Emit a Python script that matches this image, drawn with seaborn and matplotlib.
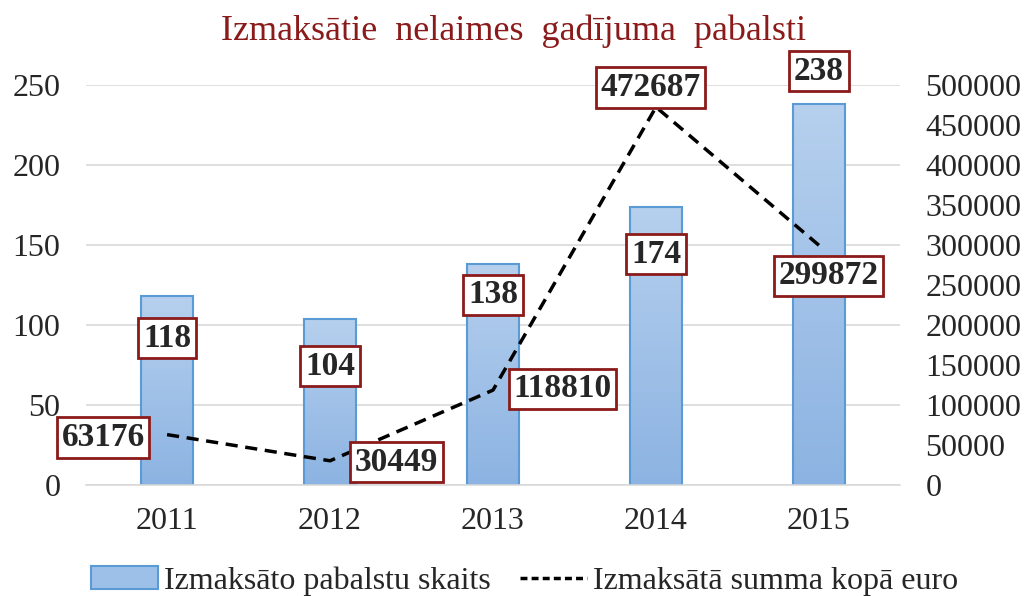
import numpy as np
import pandas as pd
import matplotlib
matplotlib.use("Agg")
from matplotlib import pyplot as plt
from matplotlib.colors import LinearSegmentedColormap
from matplotlib.lines import Line2D
from matplotlib.patches import Patch
import seaborn as sns

years = ["2011", "2012", "2013", "2014", "2015"]
counts = [118, 104, 138, 174, 238]
sums = [63176, 30449, 118810, 472687, 299872]
title = "Izmaksātie  nelaimes  gadījuma  pabalsti"
bar_name = "Izmaksāto pabalstu skaits"
line_name = "Izmaksātā summa kopā euro"

# label offsets (points) relative to the data point
bar_offsets = [(0, -30), (0, -34), (0, -22), (0, -34), (0, 24)]
line_offsets = [(-46, -2), (48, -1), (50, 1), (-4, 14), (7, -22)]

sns.set_style("white")
plt.rcParams['font.family'] = ['Liberation Serif', 'DejaVu Serif']

df = pd.DataFrame({"year": years, "count": counts, "sum": sums})

fig = plt.figure(figsize=(10.27, 5.96), dpi=100)
ax = fig.add_axes([0.0833, 0.186, 0.7935, 0.671])
sns.barplot(data=df, x="year", y="count", ax=ax, width=0.32,
            color="#9dc0e8", edgecolor="#5b9bd5", linewidth=1.5, zorder=2)

# vertical gradient in each bar
cmap = LinearSegmentedColormap.from_list("bluegrad", ["#8cb3e2", "#b6d0ee"])
grad = np.linspace(0, 1, 256).reshape(-1, 1)
for p in ax.patches:
    x0, y0 = p.get_x(), p.get_y()
    w, h = p.get_width(), p.get_height()
    im = ax.imshow(grad, cmap=cmap, origin="lower", aspect="auto",
                   extent=[x0, x0 + w, y0, y0 + h], zorder=2.1)
    im.set_clip_path(p)
    p.set_facecolor("none")
    p.set_zorder(2.2)

ax.set_xlim(-0.5, 4.5)
ax.set_ylim(0, 250)
ax.set_yticks(range(0, 251, 50))
ax.yaxis.grid(True, color="#d9d9d9", linewidth=1.2, zorder=0)
ax.set_axisbelow(True)
for s in ["top", "right", "left"]:
    ax.spines[s].set_visible(False)
ax.spines["bottom"].set_color("#d9d9d9")
ax.spines["bottom"].set_linewidth(1.2)
ax.set_xlabel("")
ax.set_ylabel("")
ax.tick_params(axis="y", length=0, labelsize=23, pad=18)
ax.tick_params(axis="x", length=0, labelsize=23, pad=16)

ax2 = ax.twinx()
sns.lineplot(x=np.arange(len(years)), y=sums, ax=ax2, color="black",
             linestyle=(0, (3.5, 2.2)), linewidth=2.5, zorder=3)
ax2.set_ylim(0, 500000)
ax2.set_yticks(range(0, 500001, 50000))
ax2.tick_params(axis="y", length=0, labelsize=23, pad=18)
for s in ax2.spines.values():
    s.set_visible(False)

box = dict(boxstyle="square,pad=0.14", fc="white", ec="#8b1a1a", lw=2)
for i, v in enumerate(counts):
    ax.annotate(str(v), (i, v), xytext=bar_offsets[i], textcoords="offset points",
                ha="center", va="center", fontsize=24, fontweight="bold",
                bbox=box, zorder=5)
for i, v in enumerate(sums):
    ax2.annotate(str(v), (i, v), xytext=line_offsets[i], textcoords="offset points",
                 ha="center", va="center", fontsize=24, fontweight="bold",
                 bbox=box, zorder=5)

fig.text(0.5, 0.948, title, ha="center", va="center", fontsize=26,
         color="#8b1a1a")

handles = [Patch(facecolor="#9dc0e8", edgecolor="#5b9bd5", linewidth=1.5),
           Line2D([], [], color="black", linestyle=(0, (2, 1.2)), linewidth=2.5)]
fig.legend(handles, [bar_name, line_name], loc="center", bbox_to_anchor=(0.511, 0.025),
           ncol=2, frameon=False, fontsize=23, handlelength=2.1, handletextpad=0.2,
           columnspacing=0.9)

fig.savefig("out.png", dpi=100)
